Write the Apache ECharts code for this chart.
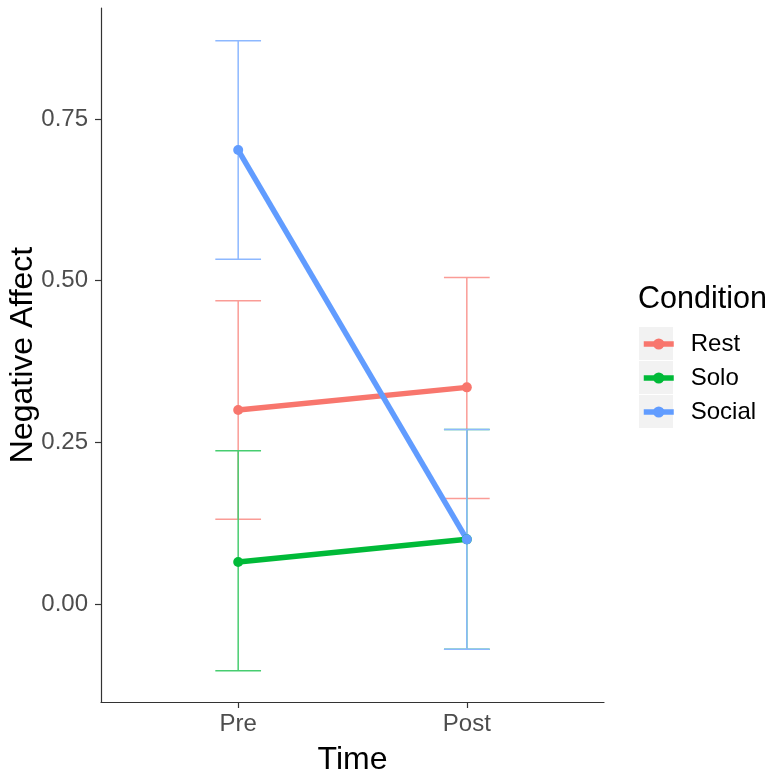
<!DOCTYPE html>
<html>
<head>
<meta charset="utf-8">
<title>Negative Affect by Time and Condition</title>
<script src="https://cdn.jsdelivr.net/npm/echarts@6/dist/echarts.min.js"></script>
<style>
  html, body { margin: 0; padding: 0; background: #ffffff; }
  #chart { width: 772px; height: 771px; }
</style>
</head>
<body>
<div id="chart"></div>
<script>
// Time points on the x axis (placed at positions 1 and 2)
const times = ['Pre', 'Post'];
const conditions = ['Rest', 'Solo', 'Social'];
const colors = ['#F8766D', '#00BA38', '#619CFF'];

// Means and error-bar limits per condition, in the order of `times`
const restMean = [0.300, 0.335];
const restLow = [0.131, 0.163];
const restHigh = [0.469, 0.505];

const soloMean = [0.065, 0.100];
const soloLow = [-0.103, -0.070];
const soloHigh = [0.237, 0.270];

const socialMean = [0.702, 0.100];
const socialLow = [0.533, -0.070];
const socialHigh = [0.871, 0.270];

const yTicks = [0, 0.25, 0.5, 0.75];

const groups = [
  { mean: restMean, low: restLow, high: restHigh },
  { mean: soloMean, low: soloLow, high: soloHigh },
  { mean: socialMean, low: socialLow, high: socialHigh }
];

const FONT = '"Liberation Sans", Arial, sans-serif';
const CAP = 0.1; // half width of error-bar caps, in x units

// Opaque tint of a colour towards white (error bars are drawn lighter)
function tint(hex, a) {
  const n = parseInt(hex.slice(1), 16);
  const mix = c => Math.round(c * a + 255 * (1 - a));
  return 'rgb(' + mix((n >> 16) & 255) + ',' + mix((n >> 8) & 255) + ',' + mix(n & 255) + ')';
}

function errorBarRender(color) {
  return function (params, api) {
    const x = api.value(0);
    const lo = api.value(1);
    const hi = api.value(2);
    const pTop = api.coord([x, hi]);
    const pBot = api.coord([x, lo]);
    const pL = api.coord([x - CAP, hi]);
    const pR = api.coord([x + CAP, hi]);
    const style = { stroke: color, lineWidth: 1.5 };
    return {
      type: 'group',
      children: [
        { type: 'line', shape: { x1: pTop[0], y1: pTop[1], x2: pBot[0], y2: pBot[1] }, style: style },
        { type: 'line', shape: { x1: pL[0], y1: pTop[1], x2: pR[0], y2: pTop[1] }, style: style },
        { type: 'line', shape: { x1: pL[0], y1: pBot[1], x2: pR[0], y2: pBot[1] }, style: style }
      ]
    };
  };
}

const series = [];
groups.forEach((g, i) => {
  series.push({
    name: conditions[i] + ' error',
    type: 'custom',
    renderItem: errorBarRender(tint(colors[i], 0.72)),
    data: times.map((t, k) => [k + 1, g.low[k], g.high[k]]),
    encode: { x: 0, y: [1, 2] },
    z: 1,
    silent: true
  });
});
groups.forEach((g, i) => {
  series.push({
    name: conditions[i],
    type: 'line',
    data: times.map((t, k) => [k + 1, g.mean[k]]),
    color: colors[i],
    lineStyle: { width: 5.5, color: colors[i] },
    itemStyle: { color: colors[i] },
    symbol: 'circle',
    symbolSize: 10,
    showSymbol: true,
    z: 3,
    animation: false
  });
});

const chart = echarts.init(document.getElementById('chart'), null, { renderer: 'canvas' });
chart.setOption({
  animation: false,
  backgroundColor: '#ffffff',
  grid: { left: 101, top: 8, width: 503, height: 694, containLabel: false, outerBoundsMode: 'none' },
  xAxis: {
    type: 'value',
    min: 0.4,
    max: 2.6,
    name: 'Time',
    nameLocation: 'middle',
    nameGap: 42,
    nameMoveOverlap: false,
    nameTextStyle: { fontFamily: FONT, fontSize: 32, color: '#000000' },
    axisLine: { show: true, onZero: false, lineStyle: { color: '#333333', width: 1.2 } },
    axisTick: { show: true, customValues: [1, 2], length: 6, lineStyle: { color: '#333333', width: 1.2 } },
    axisLabel: {
      customValues: [1, 2],
      formatter: v => times[Math.round(v) - 1],
      fontFamily: FONT, fontSize: 24, color: '#4D4D4D', margin: 10
    },
    splitLine: { show: false }
  },
  yAxis: {
    type: 'value',
    min: -0.1515,
    max: 0.9216,
    name: 'Negative Affect',
    nameLocation: 'middle',
    nameRotate: 90,
    nameGap: 62,
    nameMoveOverlap: false,
    nameTextStyle: { fontFamily: FONT, fontSize: 32, color: '#000000' },
    axisLine: { show: true, onZero: false, lineStyle: { color: '#333333', width: 1.2 } },
    axisTick: { show: true, customValues: yTicks, length: 6, lineStyle: { color: '#333333', width: 1.2 } },
    axisLabel: {
      customValues: yTicks,
      formatter: v => v.toFixed(2),
      fontFamily: FONT, fontSize: 24, color: '#4D4D4D', margin: 13
    },
    splitLine: { show: false }
  },
  title: {
    text: 'Condition',
    left: 638,
    top: 284,
    padding: 0,
    textStyle: { fontFamily: FONT, fontSize: 30.5, fontWeight: 'normal', color: '#000000' }
  },
  legend: {
    data: conditions,
    orient: 'vertical',
    left: 641,
    top: 327,
    itemWidth: 30,
    itemHeight: 14,
    itemGap: 0,
    padding: 0,
    lineStyle: { width: 5.5 },
    textStyle: {
      fontFamily: FONT, fontSize: 24, color: '#000000',
      lineHeight: 26, padding: [8, 0, 0, 12]
    },
    selectedMode: false
  },
  graphic: conditions.map((c, i) => ({
    type: 'rect',
    left: 639,
    top: 327 + i * 34,
    shape: { width: 34, height: 33 },
    style: { fill: '#F2F2F2' },
    z: -1,
    silent: true
  })),
  series: series
});
</script>
</body>
</html>
